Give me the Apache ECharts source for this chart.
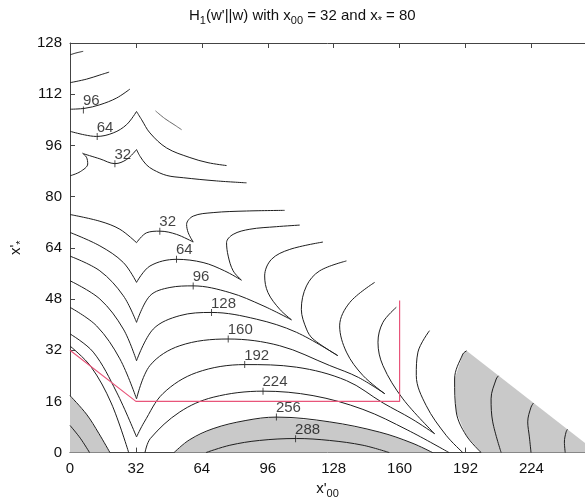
<!DOCTYPE html>
<html>
<head>
<meta charset="UTF-8">
<title>H1 contours</title>
<script src="https://cdn.jsdelivr.net/npm/echarts@6/dist/echarts.min.js"></script>
<style>
  html, body { margin: 0; padding: 0; background: #fff; }
  #main { width: 585px; height: 504px; }
</style>
</head>
<body>
<div id="main"></div>
<script>
// axis ticks
const xTicks = [0, 32, 64, 96, 128, 160, 192, 224];
const yTicks = [0, 16, 32, 48, 64, 80, 96, 112, 128];

// upper group of contours (top left)
const top1 = [[0, 124.3], [3, 124.9], [6.4, 125.4]];
const top2 = [[0, 115.6], [8, 116.7], [14.5, 118], [19, 118.9]];
const u96 = [[0, 107.3], [7.3, 107.6], [14.5, 108.7], [22.6, 110.8], [29.1, 113.6]];
const u64L = [[0, 100.4], [7, 99.3], [12.9, 98.8], [21, 99.9], [27.5, 102.5], [32.3, 106.6]];
const u64R = [[32.3, 106.6], [34.8, 104], [38.8, 99.9], [46.9, 95.2], [58.2, 92.2], [67, 90.6], [76, 89.7]];
const u32a = [[0, 86.5], [5, 87.8], [8.6, 90.2], [8, 92.3], [6, 93.6]];
const u32b = [[6.5, 93.4], [14.5, 91.8], [21.8, 90.3], [27.5, 91.6], [32.3, 94.7]];
const u32R = [[32.3, 94.7], [34, 92.6], [37, 90], [40.4, 88.4], [47, 86.6], [55, 85.9], [71.1, 84.9], [85.7, 84.3]];
const uFrag = [[41.5, 106.8], [46, 104.4], [50.5, 102.5], [54.2, 100.9]];

// lower group: left branches (edge -> cusp at x'00 = 32)
const l32 = [[0, 74.4], [14.5, 72.3], [24.2, 69.8], [32.3, 65.6]];
const l64 = [[0, 68.8], [14.5, 64.6], [25.9, 59.4], [32.3, 53.2]];
const l96 = [[0, 61.4], [14.5, 56.8], [25.9, 49], [32.3, 40.7]];
const l128 = [[0, 53.7], [14.5, 48], [25.9, 38.6], [32.3, 28.7]];
const l160 = [[0, 45.4], [12.9, 39.6], [24.2, 29.3], [32.3, 16.8]];
const l192 = [[0, 37.1], [11.3, 31.4], [22.6, 18.9], [32.3, 4.9]];
const l224 = [[0, 33.3], [10, 27], [20, 15.5], [28.5, 0]];
const l256 = [[0, 17.8], [8, 12], [14, 6], [19.4, 0]];
const l288 = [[0, 8.5], [5, 4.5], [9.5, 0]];

// lower group: arcs (cusp -> tip)
const a32 = [[32.3, 65.6], [37.2, 68.7], [43.6, 69.2], [51.7, 68.2], [59.8, 65.8]];
const a64 = [[32.3, 53.2], [38.8, 58.3], [51.7, 60.4], [64.6, 59.4], [75, 56.8], [83.2, 53.9]];
const a96 = [[32.3, 40.7], [38.8, 49], [48.5, 51.6], [59.8, 52.1], [77.6, 50], [93.7, 45.9], [107.5, 41.5]];
const a128 = [[32.3, 28.7], [40.4, 38.6], [53.3, 42.8], [68.7, 43.8], [90.5, 41.7], [109.9, 37.6], [130, 30.3]];
const a160 = [[32.3, 16.8], [38.8, 27.2], [53.3, 33.4], [76.8, 35.5], [101.8, 33.4], [126.1, 27.2], [140, 23.5], [152.8, 18.4]];
const a192 = [[32.3, 4.9], [36, 9.5], [45.2, 18.5], [61.4, 25], [84.8, 27.5], [109.9, 26.7], [134.2, 22.5], [152, 15.5], [166, 10.5], [177, 5.9]];
const a224 = [[36.4, 0], [39, 4.4], [53.3, 12.7], [69.5, 17.3], [93.7, 19.2], [118, 17.8], [142.2, 13.5], [164, 7], [184, 0]];
const a256 = [[50.5, 0], [58, 4], [69.5, 7.5], [85, 10], [100.2, 11.1], [126.1, 9.6], [150.3, 6.4], [166, 3], [176, 0]];
const a288 = [[66, 0], [77.6, 2.3], [92, 3.8], [109.9, 4.4], [126, 3.8], [142.2, 2.3], [155, 0]];

// lower group: branches from tip up to the diagonal edge
const b32 = [[59.8, 65.8], [57.4, 68.7], [56.6, 71.3], [59.8, 73.9], [69.5, 75], [85.7, 75.5], [104.2, 75.7]];
const b64 = [[83.2, 53.9], [79.2, 56.8], [76.8, 61.4], [76, 65.6], [79.2, 68.2], [87.3, 69.8], [100.2, 70.6], [111.5, 71.1]];
const b96 = [[107.5, 41.5], [101.8, 44.8], [96.1, 50], [94.5, 55.2], [97.8, 60.4], [106.7, 63.5], [122.8, 65.8]];
const b128 = [[130, 30.3], [118, 35.5], [114.8, 38.6], [112.3, 44.8], [114.8, 52.1], [121.2, 56.8], [134.2, 59.9]];
const b160 = [[152.8, 18.4], [142.2, 24.1], [134.2, 31.4], [130.9, 39.6], [135.8, 46.9], [147.9, 53.2]];
const b192 = [[177, 5.9], [161.6, 16.8], [151.9, 27.2], [149.5, 34.5], [151.9, 40.7], [158.4, 45.4]];
const b224 = [[190.7, 0], [182.6, 5.4], [172.9, 14.7], [168.1, 24.1], [168.9, 31.4], [174.5, 38.1]];
const b256 = [[199.6, 0], [192.3, 5.4], [187.5, 12.7], [186.7, 23], [190.7, 30.8], [192.5, 31.8]];
const b288 = [[209.3, 0], [205.2, 9.6], [204.4, 16.8], [206.9, 23], [208, 24]];
const b320 = [[223.8, 0], [223, 4.9], [222.2, 9.6], [223.8, 14.2], [225, 15.5]];
const b352 = [[240.4, 0], [240, 3.3], [240.8, 6.4], [241.5, 7.3]];

// grey regions (H above 256)
const greyLeft = l256.concat([[0, 0]]);
const greyMid = a256;
const greyRight = b256.concat([[250, 3], [250, 0]]);

// red path
const redPath = [[0, 32], [32, 16], [160, 16], [160, 47.5]];

// contour labels [x, y, text]
const labels = [
  [6.5, 107.1, '96'], [13.2, 98.8, '64'], [21.8, 90.3, '32'],
  [43.6, 69.2, '32'], [51.7, 60.4, '64'], [59.8, 52.1, '96'],
  [68.7, 43.8, '128'], [76.8, 35.5, '160'], [84.8, 27.5, '192'],
  [93.7, 19.2, '224'], [100.2, 11.1, '256'], [109.5, 4.3, '288']
];

const curves = [top1, top2, u96, u64L, u64R, u32a, u32b, u32R,
  l32, l64, l96, l128, l160, l192, l224, l256, l288,
  a32, a64, a96, a128, a160, a192, a224, a256, a288,
  b32, b64, b96, b128, b160, b192, b224, b256, b288, b320, b352];

const FONT = 'Liberation Sans, Arial, Helvetica, sans-serif';

function greySeries(pts) {
  return {
    type: 'custom',
    silent: true,
    z: 1,
    data: [[pts[0][0], pts[0][1]]],
    renderItem: function (params, api) {
      return {
        type: 'polygon',
        shape: { points: pts.map(p => api.coord(p)) },
        style: { fill: '#c9c9c9' }
      };
    }
  };
}

function lineSeries(pts, color) {
  return {
    type: 'line',
    data: pts,
    showSymbol: false,
    smooth: 0.35,
    z: 3,
    lineStyle: { color: color || '#1e1e1e', width: 1 }
  };
}

const series = [greySeries(greyLeft), greySeries(greyMid), greySeries(greyRight)];
curves.forEach(c => series.push(lineSeries(c)));
series.push(lineSeries(uFrag, '#6a6a6a'));
series.push({
  type: 'line',
  data: redPath,
  showSymbol: false,
  z: 4,
  lineStyle: { color: '#e8557a', width: 1.2 }
});
series.push({
  type: 'scatter',
  data: labels,
  symbol: 'rect',
  symbolSize: [1, 7],
  z: 5,
  itemStyle: { color: '#222' },
  label: {
    show: true,
    position: [0, -13],
    formatter: p => p.value[2],
    fontFamily: FONT,
    fontSize: 15,
    color: '#111'
  }
});

const chart = echarts.init(document.getElementById('main'));
chart.setOption({
  animation: false,
  backgroundColor: '#fff',
  title: {
    text: 'H{s|1}(w\'||w) with x{s|00} = 32 and x{s|*} = 80',
    left: 189,
    top: 6,
    padding: 0,
    textStyle: {
      fontFamily: FONT, fontSize: 15, fontWeight: 'normal', color: '#111',
      rich: { s: { fontFamily: FONT, fontSize: 11, color: '#111', padding: [9, 0, 0, 0] } }
    }
  },
  grid: { left: 70, right: 0, top: 43, bottom: 49 },
  xAxis: [{
    type: 'value', min: 0, max: 250, interval: 32,
    name: 'x\'{s|00}', nameLocation: 'middle', nameGap: 26,
    nameTextStyle: {
      fontFamily: FONT, fontSize: 15, color: '#111',
      rich: { s: { fontFamily: FONT, fontSize: 11, color: '#111', padding: [9, 0, 0, 0] } }
    },
    axisLine: { lineStyle: { color: '#444' } },
    axisTick: { inside: true, length: 5, lineStyle: { color: '#444' } },
    axisLabel: {
      margin: 9, fontFamily: FONT, fontSize: 15, color: '#111', showMaxLabel: false,
      formatter: v => xTicks.indexOf(v) >= 0 ? String(v) : ''
    },
    splitLine: { show: false }
  }, {
    type: 'value', min: 0, max: 250, interval: 32, position: 'top',
    axisLine: { show: true, lineStyle: { color: '#444' } },
    axisTick: { inside: true, length: 5, lineStyle: { color: '#444' } },
    axisLabel: { show: false },
    splitLine: { show: false }
  }],
  yAxis: {
    type: 'value', min: 0, max: 128, interval: 16,
    name: 'x\'{s|*}', nameLocation: 'middle', nameGap: 44, nameRotate: 90,
    nameTextStyle: {
      fontFamily: FONT, fontSize: 15, color: '#111',
      rich: { s: { fontFamily: FONT, fontSize: 11, color: '#111', padding: [9, 0, 0, 0] } }
    },
    axisLine: { show: true, lineStyle: { color: '#444' } },
    axisTick: { inside: true, length: 5, lineStyle: { color: '#444' } },
    axisLabel: {
      margin: 8, fontFamily: FONT, fontSize: 15, color: '#111',
      formatter: v => yTicks.indexOf(v) >= 0 ? String(v) : ''
    },
    splitLine: { show: false }
  },
  series: series
});
</script>
</body>
</html>
